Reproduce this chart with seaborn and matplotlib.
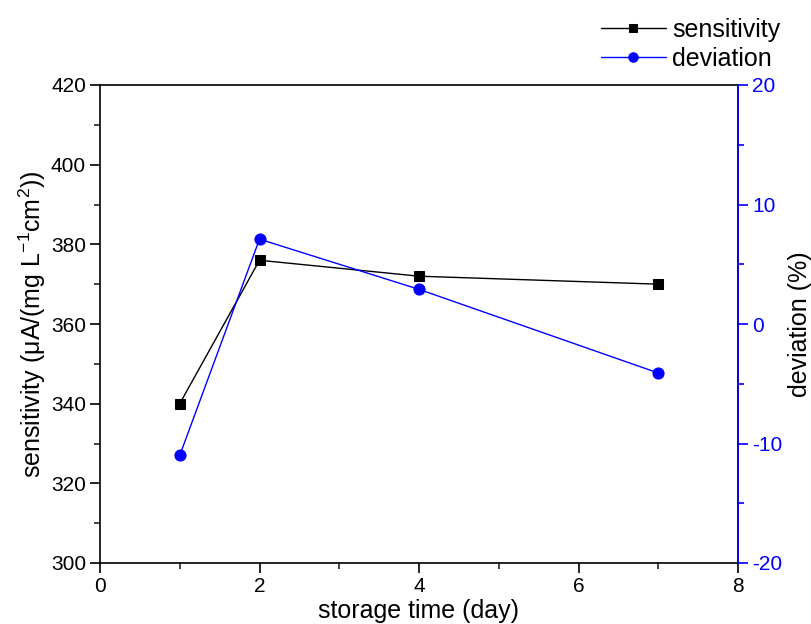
import matplotlib
matplotlib.use("Agg")
import matplotlib.pyplot as plt
from matplotlib.ticker import MultipleLocator
import seaborn as sns
import pandas as pd

days = [1, 2, 4, 7]
sensitivity = [340, 376, 372, 370]
deviation = [-11.0, 7.1, 2.9, -4.1]

sns.set_style("ticks")
plt.rcParams['font.family'] = ['Liberation Sans', 'DejaVu Sans']
plt.rcParams['mathtext.fontset'] = 'custom'
plt.rcParams['mathtext.rm'] = 'Liberation Sans'
plt.rcParams['mathtext.it'] = 'Liberation Sans'
plt.rcParams['axes.unicode_minus'] = False
plt.rcParams['text.color'] = 'black'
plt.rcParams['axes.labelcolor'] = 'black'

df = pd.DataFrame({"day": days, "sensitivity": sensitivity, "deviation": deviation})

fig = plt.figure(figsize=(8.11, 6.24), dpi=100)
ax = fig.add_axes([100/811, 1-563/624, (738-100)/811, (563-85)/624])
ax2 = ax.twinx()

sns.lineplot(data=df, x="day", y="sensitivity", ax=ax, color="black", marker="s",
             markersize=7, markeredgecolor="black", linewidth=1, label="sensitivity", legend=False)
sns.lineplot(data=df, x="day", y="deviation", ax=ax2, color="blue", marker="o",
             markersize=8, markeredgecolor="blue", linewidth=1, label="deviation", legend=False)

ax.set_xlim(0, 8)
ax.set_ylim(300, 420)
ax2.set_ylim(-20, 20)
ax.xaxis.set_major_locator(MultipleLocator(2))
ax.xaxis.set_minor_locator(MultipleLocator(1))
ax.yaxis.set_major_locator(MultipleLocator(20))
ax.yaxis.set_minor_locator(MultipleLocator(10))
ax2.yaxis.set_major_locator(MultipleLocator(10))
ax2.yaxis.set_minor_locator(MultipleLocator(5))

ax.tick_params(axis='both', which='major', direction='out', length=7, width=1.2, labelsize=15, colors='black', pad=3)
ax.tick_params(axis='both', which='minor', direction='out', length=4, width=1.2)
ax2.tick_params(axis='y', which='major', direction='out', length=7, width=1.2, labelsize=15, colors='blue', pad=3)
ax2.tick_params(axis='y', which='minor', direction='out', length=4, width=1.2, colors='blue')

for s in ax.spines.values():
    s.set_linewidth(1.2)
    s.set_color('black')
for s in ax2.spines.values():
    s.set_linewidth(1.2)
ax2.spines['right'].set_color('blue')
ax2.spines['left'].set_visible(False)
ax2.spines['top'].set_visible(False)
ax2.spines['bottom'].set_visible(False)

ax.set_xlabel("storage time (day)", fontsize=18, labelpad=2, color='black')
ax.set_ylabel(r"sensitivity (μA/(mg L$^{-1}$cm$^{2}$))", fontsize=18, labelpad=2, color='black')
ax2.set_ylabel("deviation (%)", fontsize=18, labelpad=4, color='black')

h1, l1 = ax.get_legend_handles_labels()
h2, l2 = ax2.get_legend_handles_labels()
leg = fig.legend(h1 + h2, l1 + l2, loc='upper right', bbox_to_anchor=(790/811, 1-8/624),
                 frameon=False, fontsize=18, handlelength=2.6, handletextpad=0.25,
                 labelspacing=0.2, borderaxespad=0, markerscale=0.85)
for t in leg.get_texts():
    t.set_color('black')

fig.savefig("out.png", dpi=100)
